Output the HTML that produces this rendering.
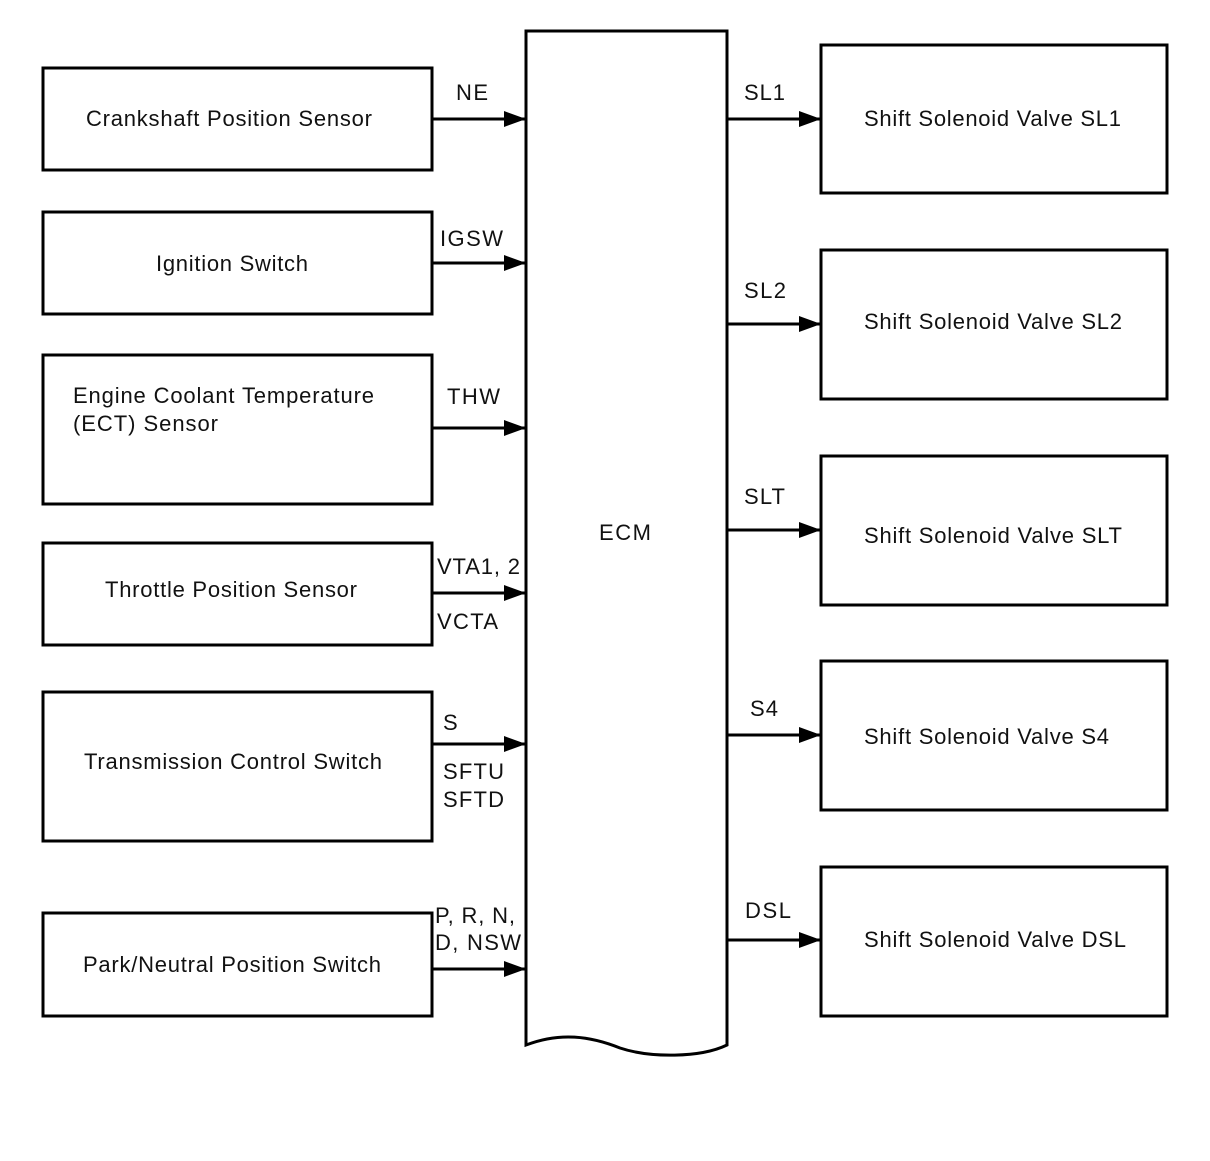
<!DOCTYPE html>
<html><head><meta charset="utf-8"><style>html,body{margin:0;padding:0;background:#fff}</style></head>
<body>
<svg width="1210" height="1156" viewBox="0 0 1210 1156" xmlns="http://www.w3.org/2000/svg" font-family="Liberation Sans, sans-serif" font-size="22" fill="#111">
<defs><marker id="a" markerWidth="22" markerHeight="16" refX="22" refY="8" orient="auto" markerUnits="userSpaceOnUse"><path d="M0,0 L22,8 L0,16 Z" fill="#000"/></marker></defs>
<g fill="none" stroke="#000" stroke-width="3">
<rect x="43" y="68" width="389" height="102"/>
<rect x="43" y="212" width="389" height="102"/>
<rect x="43" y="355" width="389" height="149"/>
<rect x="43" y="543" width="389" height="102"/>
<rect x="43" y="692" width="389" height="149"/>
<rect x="43" y="913" width="389" height="103"/>
<rect x="821" y="45" width="346" height="148"/>
<rect x="821" y="250" width="346" height="149"/>
<rect x="821" y="456" width="346" height="149"/>
<rect x="821" y="661" width="346" height="149"/>
<rect x="821" y="867" width="346" height="149"/>
<path d="M526,1045 L526,31 L727,31 L727,1045 C700,1058 650,1058 620,1048 C590,1036 560,1032 526,1045 Z"/>
<g marker-end="url(#a)">
<line x1="432" y1="119" x2="526" y2="119"/>
<line x1="432" y1="263" x2="526" y2="263"/>
<line x1="432" y1="428" x2="526" y2="428"/>
<line x1="432" y1="593" x2="526" y2="593"/>
<line x1="432" y1="744" x2="526" y2="744"/>
<line x1="432" y1="969" x2="526" y2="969"/>
<line x1="727" y1="119" x2="821" y2="119"/>
<line x1="727" y1="324" x2="821" y2="324"/>
<line x1="727" y1="530" x2="821" y2="530"/>
<line x1="727" y1="735" x2="821" y2="735"/>
<line x1="727" y1="940" x2="821" y2="940"/>
</g></g>
<text x="86" y="126" textLength="286">Crankshaft Position Sensor</text>
<text x="156" y="271" textLength="152">Ignition Switch</text>
<text x="73" y="403" textLength="301">Engine Coolant Temperature</text>
<text x="73" y="431" textLength="145">(ECT) Sensor</text>
<text x="105" y="597" textLength="252">Throttle Position Sensor</text>
<text x="84" y="769" textLength="298">Transmission Control Switch</text>
<text x="83" y="972" textLength="298">Park/Neutral Position Switch</text>
<text x="864" y="126" textLength="257">Shift Solenoid Valve SL1</text>
<text x="864" y="329" textLength="258">Shift Solenoid Valve SL2</text>
<text x="864" y="543" textLength="258">Shift Solenoid Valve SLT</text>
<text x="864" y="744" textLength="245">Shift Solenoid Valve S4</text>
<text x="864" y="947" textLength="262">Shift Solenoid Valve DSL</text>
<text x="599" y="540" textLength="52">ECM</text>
<text x="456" y="100" textLength="32">NE</text>
<text x="440" y="246" textLength="63">IGSW</text>
<text x="447" y="404" textLength="53">THW</text>
<text x="437" y="574" textLength="83">VTA1, 2</text>
<text x="437" y="629" textLength="61">VCTA</text>
<text x="443" y="730" textLength="15">S</text>
<text x="443" y="779" textLength="61">SFTU</text>
<text x="443" y="807" textLength="61">SFTD</text>
<text x="435" y="923" textLength="80">P, R, N,</text>
<text x="435" y="950" textLength="86">D, NSW</text>
<text x="744" y="100" textLength="41">SL1</text>
<text x="744" y="298" textLength="42">SL2</text>
<text x="744" y="504" textLength="41">SLT</text>
<text x="750" y="716" textLength="28">S4</text>
<text x="745" y="918" textLength="46">DSL</text>
</svg>
</body></html>
